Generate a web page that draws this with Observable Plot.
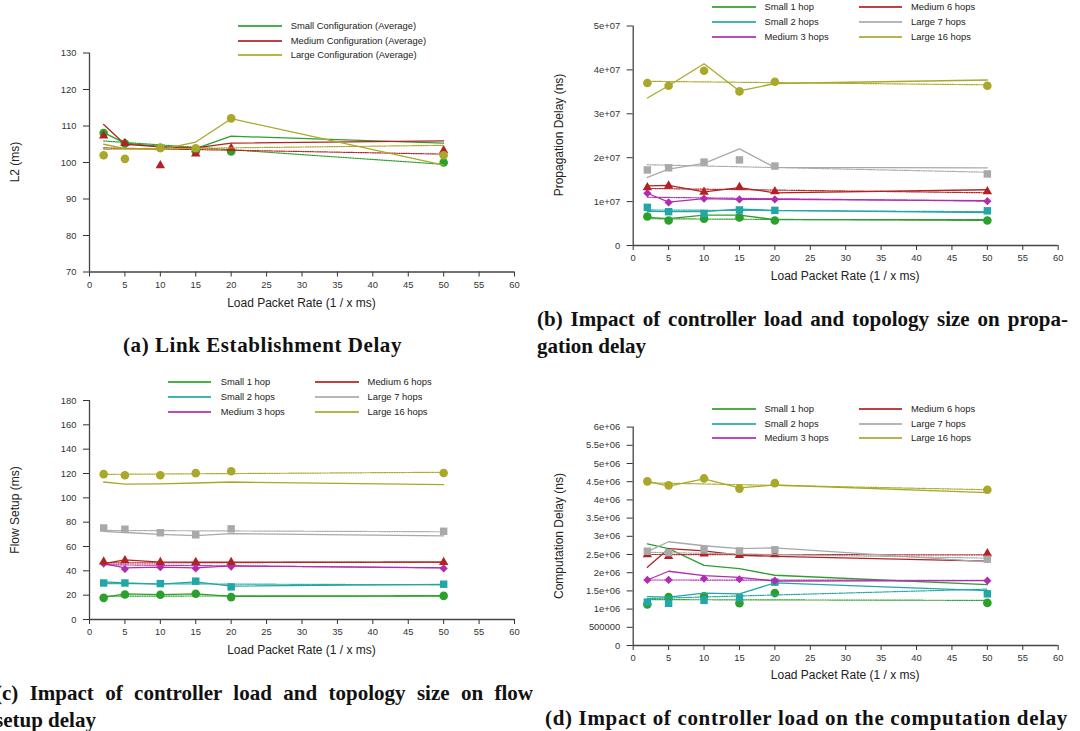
<!DOCTYPE html>
<html><head><meta charset="utf-8">
<script src="https://cdn.jsdelivr.net/npm/d3@7"></script>
<script src="https://cdn.jsdelivr.net/npm/@observablehq/plot@0.6"></script>
<style>
body{margin:0;background:#fff;}
#page{position:relative;width:1080px;height:731px;overflow:hidden;font-family:"Liberation Sans",Arial,sans-serif;background:#fff;}
.panel{position:absolute;}
.lg-line{position:absolute;height:2px;opacity:0.85;}
.lg-text{position:absolute;font-size:9.4px;color:#222;transform:translateY(-50%);white-space:nowrap;line-height:1;}
.xt{position:absolute;font-size:12px;color:#222;transform:translate(-50%,-50%);white-space:nowrap;line-height:1;}
.yt{position:absolute;font-size:12px;color:#222;transform:translate(-50%,-50%) rotate(-90deg);white-space:nowrap;line-height:1;}
.cap{position:absolute;font-family:"Liberation Serif","Times New Roman",serif;font-weight:bold;font-size:21px;color:#111;white-space:nowrap;line-height:1;transform:translateY(-50%);}
</style></head>
<body><div id="page"></div>
<script>
// ---------- shared axes ----------
const xs = [2, 5, 10, 15, 20, 50];
const trendXs = [2, 50];
const xTickValues = [0, 5, 10, 15, 20, 25, 30, 35, 40, 45, 50, 55, 60];
const xLabel = "Load Packet Rate (1 / x ms)";

// ---------- panel (a) ----------
const aNames = ["Small Configuration (Average)", "Medium Configuration (Average)", "Large Configuration (Average)"];
const aSmallPts = [108.1, 105.2, 104.0, 103.1, 103.0, 100.0];
const aMediumPts = [107.3, 105.3, 99.2, 102.4, 103.9, 103.3];
const aLargePts = [102.0, 101.0, 104.0, 103.9, 112.1, 102.0];
const aSmallAvg = [108.2, 105.3, 104.4, 103.8, 107.2, 105.3];
const aMediumAvg = [110.4, 105.0, 104.3, 104.0, 105.3, 105.9];
const aLargeAvg = [105.0, 103.8, 103.5, 105.6, 112.0, 99.3];
const aSmallTrend = [105.9, 99.5];
const aMediumTrend = [104.0, 102.3];
const aLargeTrend = [103.6, 104.7];
const aYTicks = [70, 80, 90, 100, 110, 120, 130];

// ---------- topology series names (b, c, d) ----------
const hopNames = ["Small 1 hop", "Small 2 hops", "Medium 3 hops", "Medium 6 hops", "Large 7 hops", "Large 16 hops"];

// ---------- panel (b) propagation delay (ns) ----------
const bS1Pts = [6.6e6, 5.7e6, 6.1e6, 6.4e6, 5.7e6, 5.7e6];
const bS2Pts = [8.7e6, 7.7e6, 7.3e6, 8.1e6, 8.0e6, 7.9e6];
const bM3Pts = [1.19e7, 0.98e7, 1.07e7, 1.05e7, 1.05e7, 1.01e7];
const bM6Pts = [1.32e7, 1.36e7, 1.22e7, 1.33e7, 1.23e7, 1.23e7];
const bL7Pts = [1.72e7, 1.77e7, 1.90e7, 1.95e7, 1.81e7, 1.63e7];
const bL16Pts = [3.70e7, 3.64e7, 3.98e7, 3.51e7, 3.73e7, 3.64e7];
const bS1Avg = [6.4e6, 6.1e6, 6.9e6, 6.9e6, 5.9e6, 5.9e6];
const bS2Avg = [7.8e6, 7.7e6, 7.7e6, 8.3e6, 8.0e6, 7.5e6];
const bM3Avg = [1.19e7, 0.99e7, 1.07e7, 1.05e7, 1.05e7, 1.02e7];
const bM6Avg = [1.36e7, 1.37e7, 1.22e7, 1.32e7, 1.20e7, 1.27e7];
const bL7Avg = [1.55e7, 1.74e7, 1.87e7, 2.20e7, 1.78e7, 1.77e7];
const bL16Avg = [3.36e7, 3.64e7, 4.14e7, 3.52e7, 3.69e7, 3.77e7];
const bS1Trend = [6.1e6, 5.7e6];
const bS2Trend = [8.1e6, 7.7e6];
const bM3Trend = [1.10e7, 1.01e7];
const bM6Trend = [1.30e7, 1.20e7];
const bL7Trend = [1.84e7, 1.67e7];
const bL16Trend = [3.74e7, 3.66e7];
const bYTicks = [0, 1e7, 2e7, 3e7, 4e7, 5e7];

// ---------- panel (c) flow setup (ms) ----------
const cS1Pts = [17.8, 20.5, 20.3, 21.2, 18.4, 19.4];
const cS2Pts = [30.0, 30.0, 29.5, 31.5, 26.8, 29.0];
const cM3Pts = [46.0, 41.5, 43.0, 42.0, 43.5, 42.0];
const cM6Pts = [47.5, 48.5, 47.0, 47.0, 47.0, 47.0];
const cL7Pts = [75.2, 74.2, 71.3, 69.6, 74.5, 72.5];
const cL16Pts = [119.5, 118.6, 118.6, 120.3, 121.8, 120.4];
const cS1Avg = [18.2, 21.0, 20.5, 21.0, 19.0, 19.2];
const cS2Avg = [31.0, 30.0, 29.0, 31.0, 27.5, 28.8];
const cM3Avg = [46.0, 42.5, 43.0, 42.5, 44.0, 42.5];
const cM6Avg = [46.0, 49.0, 47.2, 47.2, 47.2, 47.2];
const cL7Avg = [72.5, 71.5, 70.0, 69.0, 70.5, 68.8];
const cL16Avg = [113.0, 111.3, 111.5, 112.2, 113.0, 110.8];
const cS1Trend = [19.2, 19.6];
const cS2Trend = [29.5, 28.5];
const cM3Trend = [45.0, 42.5];
const cM6Trend = [46.5, 47.2];
const cL7Trend = [73.2, 72.1];
const cL16Trend = [119.3, 121.0];
const cYTicks = [0, 20, 40, 60, 80, 100, 120, 140, 160, 180];

// ---------- panel (d) computation delay (ns) ----------
const dS1Pts = [1.13e6, 1.33e6, 1.35e6, 1.16e6, 1.44e6, 1.17e6];
const dS2Pts = [1.19e6, 1.16e6, 1.24e6, 1.31e6, 1.74e6, 1.42e6];
const dM3Pts = [1.80e6, 1.80e6, 1.84e6, 1.82e6, 1.78e6, 1.78e6];
const dM6Pts = [2.50e6, 2.45e6, 2.52e6, 2.48e6, 2.50e6, 2.53e6];
const dL7Pts = [2.59e6, 2.55e6, 2.65e6, 2.60e6, 2.63e6, 2.37e6];
const dL16Pts = [4.51e6, 4.40e6, 4.59e6, 4.31e6, 4.46e6, 4.28e6];
const dS1Avg = [2.79e6, 2.66e6, 2.20e6, 2.11e6, 1.93e6, 1.67e6];
const dS2Avg = [1.34e6, 1.33e6, 1.44e6, 1.42e6, 1.72e6, 1.51e6];
const dM3Avg = [1.80e6, 2.04e6, 1.92e6, 1.87e6, 1.77e6, 1.78e6];
const dM6Avg = [2.15e6, 2.66e6, 2.60e6, 2.48e6, 2.45e6, 2.32e6];
const dL7Avg = [2.58e6, 2.85e6, 2.74e6, 2.66e6, 2.68e6, 2.30e6];
const dL16Avg = [4.51e6, 4.38e6, 4.58e6, 4.33e6, 4.41e6, 4.20e6];
const dS1Trend = [1.26e6, 1.24e6];
const dS2Trend = [1.29e6, 1.55e6];
const dM3Trend = [1.80e6, 1.79e6];
const dM6Trend = [2.50e6, 2.49e6];
const dL7Trend = [2.56e6, 2.40e6];
const dL16Trend = [4.47e6, 4.28e6];
const dYTicks = [0, 5e5, 1e6, 1.5e6, 2e6, 2.5e6, 3e6, 3.5e6, 4e6, 4.5e6, 5e6, 5.5e6, 6e6];

// ---------- captions / titles ----------
const yLabels = ["L2 (ms)", "Propagation Delay (ns)", "Flow Setup (ms)", "Computation Delay (ns)"];
const captionA = "(a) Link Establishment Delay";
const captionB = ["(b) Impact of controller load and topology size on propa-", "gation delay"];
const captionC = ["(c) Impact of controller load and topology size on flow", "setup delay"];
const captionD = "(d) Impact of controller load on the computation delay";

// ---------- styles ----------
const GREEN = "#2ca02c", TEAL = "#22a6a6", MAGENTA = "#b02cb0", RED = "#b22222", GRAY = "#a9a9a9", OLIVE = "#aaa82a";
const hopColors = [GREEN, TEAL, MAGENTA, RED, GRAY, OLIVE];
const hopSymbols = ["circle", "square", "diamond2", "triangle", "square", "circle"];
const symR = {circle: 4.3, square: 4.2, diamond2: 3.7, triangle: 3.5};

const gfmt = d => d === 0 ? "0" : d < 1e6 ? String(d) : d3.format("~e")(d).replace(/e([+-])(\d)$/, "e$10$2");

const page = document.getElementById("page");

function makePanel(cfg) {
  const marks = [
    Plot.ruleX([0], {stroke: "#444", strokeWidth: 1.3}),
    Plot.ruleY([cfg.yDomain[0]], {stroke: "#444", strokeWidth: 1.3})
  ];
  cfg.series.forEach(s => {
    const trend = trendXs.map((x, i) => ({x, y: s.trend[i]}));
    const avg = xs.map((x, i) => ({x, y: s.avg[i]}));
    const pts = xs.map((x, i) => ({x, y: s.pts[i]}));
    marks.push(Plot.line(trend, {x: "x", y: "y", stroke: s.color, strokeWidth: 1.2, strokeDasharray: "1.2,1.2"}));
    marks.push(Plot.line(avg, {x: "x", y: "y", stroke: s.color, strokeWidth: 1.3}));
    marks.push(Plot.dot(pts, {x: "x", y: "y", fill: s.color, stroke: "none", symbol: s.symbol, r: symR[s.symbol]}));
  });
  const svg = Plot.plot({
    width: cfg.width, height: cfg.height,
    marginLeft: cfg.m[0], marginRight: cfg.m[1], marginTop: cfg.m[2], marginBottom: cfg.m[3],
    x: {domain: [0, 60], ticks: xTickValues, tickSize: 5, tickPadding: 4, label: null, tickFormat: d => String(d)},
    y: {domain: cfg.yDomain, ticks: cfg.yTicks, tickSize: 6, tickPadding: 7, label: null, tickFormat: cfg.fmt},
    style: {fontFamily: "'Liberation Sans', Arial, sans-serif", fontSize: "9.4px", color: "#333", background: "transparent", overflow: "visible"},
    marks
  });
  const wrap = document.createElement("div");
  wrap.className = "panel";
  wrap.style.left = cfg.left + "px";
  wrap.style.top = cfg.top + "px";
  wrap.appendChild(svg);
  page.appendChild(wrap);
}

function addDiv(cls, text, left, top, extra) {
  const el = document.createElement("div");
  el.className = cls;
  el.textContent = text;
  el.style.left = left + "px";
  el.style.top = top + "px";
  if (extra) Object.assign(el.style, extra);
  page.appendChild(el);
  return el;
}

function legend(names, colors, cols, rows) {
  names.forEach((n, i) => {
    const c = cols[Math.floor(i / rows.length)];
    const y = rows[i % rows.length];
    const ln = document.createElement("div");
    ln.className = "lg-line";
    ln.style.left = Math.round(c[0]) + "px";
    ln.style.width = Math.round(c[1] - c[0]) + "px";
    ln.style.top = Math.round(y - 1) + "px";
    ln.style.backgroundColor = colors[i];
    page.appendChild(ln);
    addDiv("lg-text", n, c[2], y);
  });
}

function hopSeries(pts, avg, trend) {
  return hopNames.map((n, i) => ({name: n, color: hopColors[i], symbol: hopSymbols[i], pts: pts[i], avg: avg[i], trend: trend[i]}));
}

// panel (a)
makePanel({
  left: 0, top: 0, width: 540, height: 300, m: [89, 26, 52.5, 28.5],
  yDomain: [70, 130], yTicks: aYTicks, fmt: d => String(d),
  series: [
    {color: GREEN, symbol: "circle", pts: aSmallPts, avg: aSmallAvg, trend: aSmallTrend},
    {color: RED, symbol: "triangle", pts: aMediumPts, avg: aMediumAvg, trend: aMediumTrend},
    {color: OLIVE, symbol: "circle", pts: aLargePts, avg: aLargeAvg, trend: aLargeTrend}
  ]
});
// panel (b)
makePanel({
  left: 540, top: 0, width: 540, height: 300, m: [92.7, 22.3, 25.5, 55],
  yDomain: [0, 5e7], yTicks: bYTicks, fmt: gfmt,
  series: hopSeries([bS1Pts, bS2Pts, bM3Pts, bM6Pts, bL7Pts, bL16Pts], [bS1Avg, bS2Avg, bM3Avg, bM6Avg, bL7Avg, bL16Avg], [bS1Trend, bS2Trend, bM3Trend, bM6Trend, bL7Trend, bL16Trend])
});
// panel (c)
makePanel({
  left: 0, top: 370, width: 540, height: 300, m: [89, 26, 30, 51],
  yDomain: [0, 180], yTicks: cYTicks, fmt: d => String(d),
  series: hopSeries([cS1Pts, cS2Pts, cM3Pts, cM6Pts, cL7Pts, cL16Pts], [cS1Avg, cS2Avg, cM3Avg, cM6Avg, cL7Avg, cL16Avg], [cS1Trend, cS2Trend, cM3Trend, cM6Trend, cL7Trend, cL16Trend])
});
// panel (d)
makePanel({
  left: 540, top: 370, width: 540, height: 300, m: [92.7, 22.3, 56.6, 25],
  yDomain: [0, 6e6], yTicks: dYTicks, fmt: gfmt,
  series: hopSeries([dS1Pts, dS2Pts, dM3Pts, dM6Pts, dL7Pts, dL16Pts], [dS1Avg, dS2Avg, dM3Avg, dM6Avg, dL7Avg, dL16Avg], [dS1Trend, dS2Trend, dM3Trend, dM6Trend, dL7Trend, dL16Trend])
});

// legends
legend(aNames, [GREEN, RED, OLIVE], [[238, 282, 290.7]], [25.5, 40.5, 55]);
legend(hopNames, hopColors, [[712.4, 755.9, 764.5], [859, 902, 911]], [7, 22.3, 37.3]);
legend(hopNames, hopColors, [[168.3, 211.7, 220.7], [314.8, 358.6, 367.6]], [382.3, 397.3, 412.3]);
legend(hopNames, hopColors, [[712.4, 755.9, 764.5], [859, 902, 911]], [408.9, 423.9, 437.9]);

// axis titles
addDiv("xt", xLabel, 301.5, 302.5);
addDiv("xt", xLabel, 845.2, 275.5);
addDiv("xt", xLabel, 301.5, 649.7);
addDiv("xt", xLabel, 845.2, 675.3);
addDiv("yt", yLabels[0], 14.5, 162);
addDiv("yt", yLabels[1], 559, 135.3);
addDiv("yt", yLabels[2], 14.5, 509.5);
addDiv("yt", yLabels[3], 559, 535.8);

// captions
function fitWord(el, target) {
  const w = el.getBoundingClientRect().width;
  const n = (el.textContent.match(/ /g) || []).length;
  if (n) el.style.wordSpacing = ((target - w) / n) + "px";
}
function fitLetter(el, target) {
  const w = el.getBoundingClientRect().width;
  const n = el.textContent.length;
  el.style.letterSpacing = ((target - w) / n) + "px";
}
fitLetter(addDiv("cap", captionA, 123, 344.5), 279);
fitWord(addDiv("cap", captionB[0], 537, 318.5), 531);
addDiv("cap", captionB[1], 537, 346);
fitWord(addDiv("cap", captionC[0], -5, 692.7), 538);
addDiv("cap", captionC[1], -5, 719.7);
fitLetter(addDiv("cap", captionD, 545, 718), 523);
</script>
</body></html>
